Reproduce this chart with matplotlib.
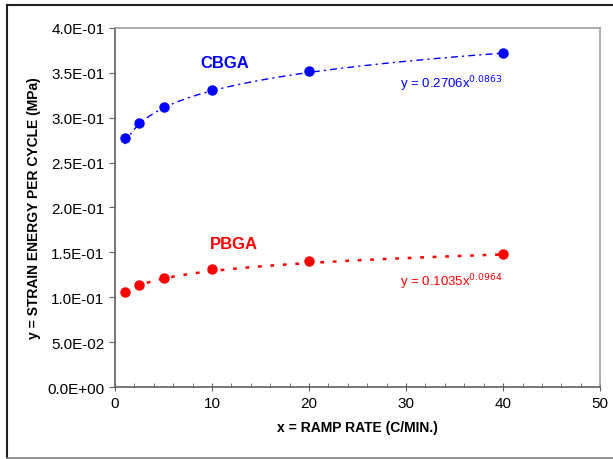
import numpy as np
import matplotlib
matplotlib.use("Agg")
import matplotlib.pyplot as plt
from matplotlib.ticker import FuncFormatter, MultipleLocator
from matplotlib.lines import Line2D

plt.rcParams['font.family'] = ['Liberation Sans', 'DejaVu Sans']

ramp_rate = [1, 2.5, 5, 10, 20, 40]
cbga = [0.277, 0.294, 0.312, 0.331, 0.352, 0.372]
pbga = [0.106, 0.1135, 0.121, 0.131, 0.140, 0.148]
cbga_coef = (0.2706, 0.0863)
pbga_coef = (0.1035, 0.0964)
x_ticks = [0, 10, 20, 30, 40, 50]

fig = plt.figure(figsize=(6.13, 4.6), dpi=100)
ax = fig.add_axes([0.1876, 0.1565, 0.7914, 0.7805])

xs = np.linspace(min(ramp_rate), max(ramp_rate), 300)
ax.plot(xs, cbga_coef[0] * xs ** cbga_coef[1], color='#0000FF', lw=1.0, dashes=(5, 3, 1.5, 3))
ax.plot(xs, pbga_coef[0] * xs ** pbga_coef[1], color='#FF0000', lw=1.8, dashes=(1.5, 3.5))
ax.plot(ramp_rate, cbga, 'o', color='#0000FF', ms=6.5)
ax.plot(ramp_rate, pbga, 'o', color='#FF0000', ms=6.5)

ax.set_xlim(0, 50)
ax.set_ylim(0, 0.4)
ax.set_xticks(x_ticks)
ax.xaxis.set_minor_locator(MultipleLocator(2))
ax.yaxis.set_major_locator(MultipleLocator(0.05))

def fmt(v, pos):
    if abs(v) < 1e-12:
        return '0.0E+00'
    e = int(np.floor(np.log10(abs(v)) + 1e-9))
    m = v / 10 ** e
    return f'{m:.1f}E{e:+03d}'

ax.yaxis.set_major_formatter(FuncFormatter(fmt))
ax.tick_params(axis='both', which='major', direction='out', length=4, labelsize=11, color='#606060')
ax.tick_params(axis='x', which='minor', direction='in', length=3, color='#606060')
ax.tick_params(axis='x', which='major', direction='inout', length=6)
for s in ['top', 'right']:
    ax.spines[s].set_color('#A0A0A0')
    ax.spines[s].set_linewidth(1.2)
for s in ['left', 'bottom']:
    ax.spines[s].set_color('#606060')
    ax.spines[s].set_linewidth(1.2)

ax.set_xlabel('x = RAMP RATE (C/MIN.)', fontsize=10, fontweight='bold', labelpad=7)
ax.set_ylabel('y = STRAIN ENERGY PER CYCLE (MPa)', fontsize=10, fontweight='bold', labelpad=5)

ax.text(11.3, 0.362, 'CBGA', color='#0000FF', fontsize=12, fontweight='bold', ha='center', va='center')
ax.text(12.3, 0.160, 'PBGA', color='#FF0000', fontsize=12, fontweight='bold', ha='center', va='center')
ax.text(29.4, 0.339, r'y = 0.2706x$^{0.0863}$', color='#0000FF', fontsize=9.5, ha='left', va='center')
ax.text(29.4, 0.118, r'y = 0.1035x$^{0.0964}$', color='#FF0000', fontsize=9.5, ha='left', va='center')

W, H = 613, 460
fig.add_artist(Line2D([7/W, 7/W], [1 - 459/H, 1 - 6/H], transform=fig.transFigure, color='#202020', lw=1.5))
fig.add_artist(Line2D([7/W, 1], [1 - 6/H, 1 - 6/H], transform=fig.transFigure, color='#202020', lw=1.5))
fig.add_artist(Line2D([7/W, 1], [1 - 459/H, 1 - 459/H], transform=fig.transFigure, color='#808080', lw=1.2))

fig.savefig('out.png', dpi=100)
